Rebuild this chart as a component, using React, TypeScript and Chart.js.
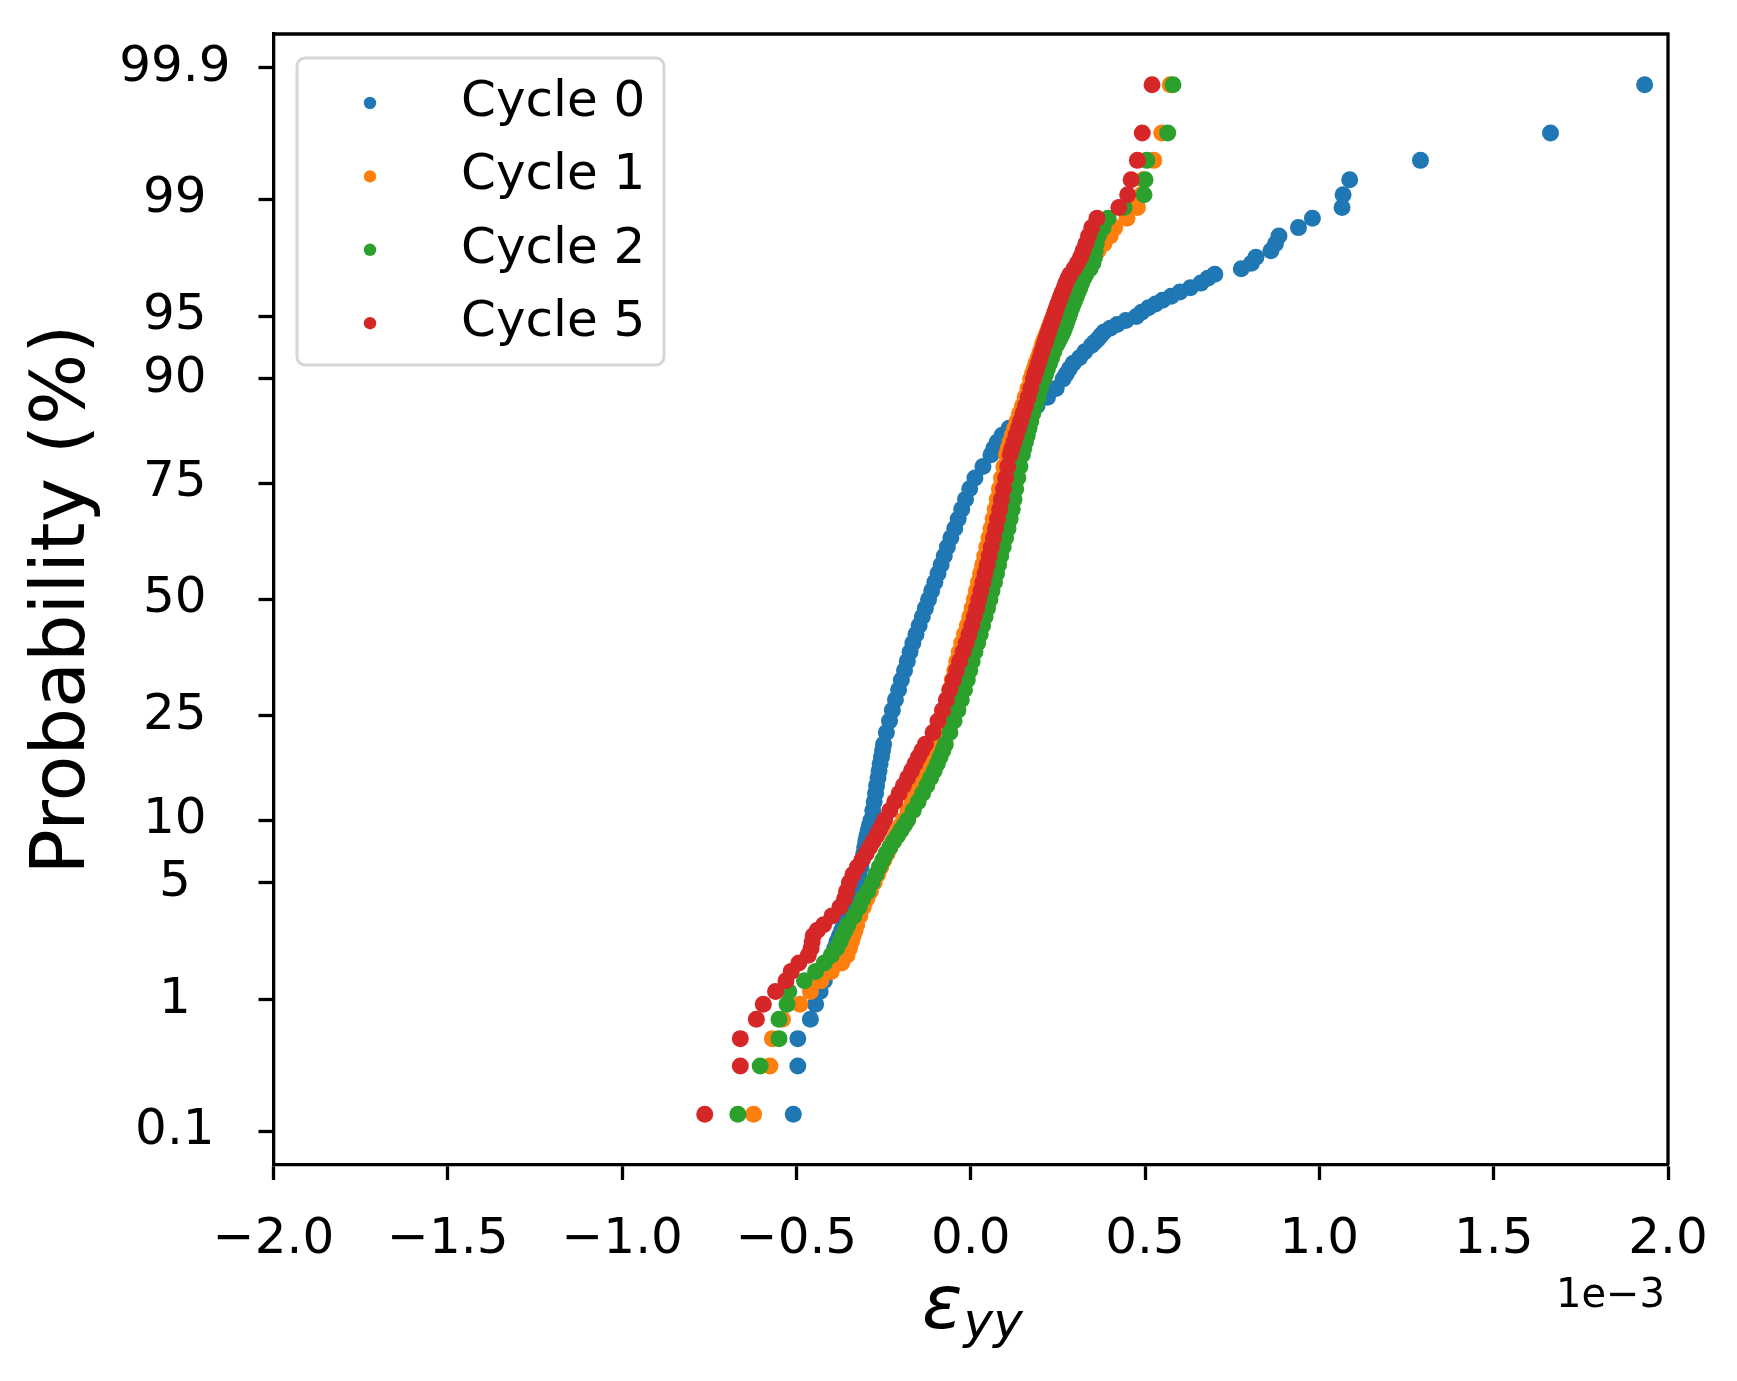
import React, { useEffect, useRef } from 'react';
import { Chart, registerables } from 'chart.js';

Chart.register(...registerables);

// plotting positions in %, shared by every cycle (500 samples each,
// the dense middle is sub-sampled)
const probLevels = [
  0.139, 0.336, 0.536, 0.736, 0.935, 1.135, 1.335, 1.535, 1.735, 1.934, 2.134, 2.334, 2.534, 2.734, 2.934,
  3.3, 3.7, 4.1, 4.5, 5, 5.5, 6, 6.5, 7, 7.5, 8, 8.5, 9, 9.5, 10,
  11, 12, 13, 14, 15, 16, 17, 18, 19, 20,
  22, 24, 26, 28, 30, 32, 34, 36, 38, 40, 42, 44, 46, 48, 50, 52, 54, 56, 58, 60, 62, 64, 66, 68, 70, 72, 74, 76, 78,
  80, 81, 82, 83, 84, 85, 86, 87, 88, 89, 90,
  90.5, 91, 91.5, 92, 92.5, 93, 93.25, 93.5, 93.75, 94, 94.25, 94.5, 94.75, 95, 95.25, 95.5, 95.7, 95.9, 96.1, 96.3, 96.5, 96.7, 96.9,
  97.066, 97.266, 97.466, 97.666, 97.866, 98.066, 98.266, 98.465, 98.665, 98.865, 99.065, 99.264, 99.464, 99.664, 99.861,
];

// eps_yy at each level, in units of 1e-3
const cycle0 = [
  -0.509, -0.496, -0.496, -0.46, -0.445, -0.432, -0.42, -0.41, -0.403, -0.397, -0.39, -0.384, -0.377, -0.37, -0.364,
  -0.355, -0.347, -0.34, -0.333, -0.326, -0.32, -0.315, -0.311, -0.307, -0.304, -0.301, -0.298, -0.294, -0.29, -0.286,
  -0.281, -0.277, -0.273, -0.27, -0.266, -0.263, -0.26, -0.256, -0.253, -0.25,
  -0.242, -0.233, -0.225, -0.216, -0.207, -0.199, -0.19, -0.182, -0.174, -0.166, -0.157, -0.148, -0.139, -0.13, -0.121,
  -0.112, -0.103, -0.094, -0.085, -0.076, -0.067, -0.057, -0.046, -0.036, -0.026, -0.015, -0.003, 0.012, 0.035,
  0.058, 0.066, 0.076, 0.09, 0.11, 0.135, 0.16, 0.19, 0.22, 0.245, 0.265,
  0.274, 0.283, 0.294, 0.312, 0.327, 0.346, 0.355, 0.365, 0.373, 0.382, 0.4, 0.42, 0.445, 0.475, 0.49, 0.51, 0.53, 0.55, 0.575, 0.6, 0.63, 0.66, 0.68,
  0.7, 0.776, 0.805, 0.818, 0.861, 0.874, 0.884, 0.94, 0.98, 1.065, 1.068, 1.087, 1.29, 1.663, 1.933,
];

const cycle1 = [
  -0.623, -0.576, -0.569, -0.54, -0.49, -0.46, -0.43, -0.4, -0.37, -0.355, -0.348, -0.342, -0.337, -0.332, -0.327,
  -0.318, -0.308, -0.298, -0.288, -0.277, -0.267, -0.258, -0.249, -0.24, -0.232, -0.224, -0.216, -0.208, -0.2, -0.192,
  -0.18, -0.168, -0.157, -0.147, -0.137, -0.128, -0.119, -0.111, -0.103, -0.096,
  -0.09, -0.085, -0.077, -0.068, -0.06, -0.053, -0.046, -0.04, -0.033, -0.026, -0.018, -0.01, -0.003, 0.004, 0.01,
  0.016, 0.022, 0.028, 0.034, 0.04, 0.046, 0.052, 0.058, 0.064, 0.07, 0.076, 0.082, 0.088, 0.095,
  0.102, 0.107, 0.113, 0.119, 0.126, 0.133, 0.14, 0.148, 0.156, 0.164, 0.172,
  0.177, 0.182, 0.187, 0.193, 0.199, 0.205, 0.208, 0.212, 0.216, 0.22, 0.224, 0.228, 0.232, 0.237, 0.241, 0.246, 0.251, 0.256, 0.261, 0.267, 0.273, 0.28, 0.29,
  0.3, 0.315, 0.33, 0.348, 0.365, 0.382, 0.4, 0.413, 0.448, 0.478, 0.49, 0.495, 0.525, 0.548, 0.572,
];

const cycle2 = [
  -0.668, -0.604, -0.55, -0.55, -0.527, -0.522, -0.477, -0.445, -0.42, -0.4, -0.385, -0.375, -0.368, -0.36, -0.352,
  -0.335, -0.32, -0.31, -0.295, -0.283, -0.272, -0.262, -0.252, -0.243, -0.232, -0.221, -0.21, -0.2, -0.19, -0.181,
  -0.165, -0.151, -0.138, -0.126, -0.115, -0.105, -0.096, -0.088, -0.08, -0.073,
  -0.06, -0.048, -0.037, -0.027, -0.018, -0.01, -0.003, 0.004, 0.012, 0.02, 0.027, 0.034, 0.041, 0.048, 0.055,
  0.061, 0.068, 0.074, 0.08, 0.086, 0.093, 0.1, 0.107, 0.113, 0.119, 0.124, 0.129, 0.135, 0.141,
  0.148, 0.152, 0.157, 0.162, 0.167, 0.172, 0.178, 0.185, 0.193, 0.2, 0.21,
  0.215, 0.22, 0.226, 0.232, 0.238, 0.245, 0.25, 0.255, 0.26, 0.265, 0.269, 0.273, 0.277, 0.281, 0.285, 0.29, 0.294, 0.298, 0.303, 0.308, 0.313, 0.318, 0.324,
  0.33, 0.342, 0.35, 0.355, 0.357, 0.36, 0.366, 0.38, 0.394, 0.44, 0.497, 0.5, 0.505, 0.565, 0.58,
];

const cycle5 = [
  -0.763, -0.661, -0.661, -0.615, -0.595, -0.56, -0.53, -0.515, -0.493, -0.466, -0.458, -0.455, -0.452, -0.44, -0.422,
  -0.398, -0.375, -0.362, -0.356, -0.348, -0.338, -0.325, -0.312, -0.3, -0.29, -0.28, -0.27, -0.262, -0.254, -0.247,
  -0.232, -0.218, -0.205, -0.193, -0.181, -0.17, -0.16, -0.15, -0.14, -0.13,
  -0.108, -0.094, -0.081, -0.07, -0.06, -0.05, -0.041, -0.032, -0.022, -0.013, -0.005, 0.003, 0.01, 0.017, 0.023,
  0.029, 0.035, 0.041, 0.047, 0.053, 0.059, 0.065, 0.071, 0.077, 0.083, 0.088, 0.094, 0.1, 0.106,
  0.113, 0.118, 0.124, 0.13, 0.137, 0.143, 0.15, 0.157, 0.165, 0.172, 0.18,
  0.184, 0.189, 0.194, 0.199, 0.204, 0.21, 0.213, 0.216, 0.219, 0.223, 0.226, 0.23, 0.234, 0.238, 0.242, 0.246, 0.25, 0.254, 0.258, 0.263, 0.268, 0.273, 0.279,
  0.285, 0.296, 0.306, 0.315, 0.322, 0.33, 0.338, 0.347, 0.362, 0.425, 0.45, 0.46, 0.478, 0.492, 0.52,
];

const seriesLabels = ['Cycle 0', 'Cycle 1', 'Cycle 2', 'Cycle 5'];
const seriesColors = ['#1f77b4', '#ff7f0e', '#2ca02c', '#d62728'];

const probTicks = [0.1, 1, 5, 10, 25, 50, 75, 90, 95, 99, 99.9];
const probTickLabels = ['0.1', '1', '5', '10', '25', '50', '75', '90', '95', '99', '99.9'];

const FONT = '"DejaVu Sans", sans-serif';

// inverse of the standard normal CDF (Acklam), used for the probability axis
function probit(p: number): number {
  const a = [-39.69683028665376, 220.9460984245205, -275.9285104469687, 138.357751867269, -30.66479806614716, 2.506628277459239];
  const b = [-54.47609879822406, 161.5858368580409, -155.6989798598866, 66.80131188771972, -13.28068155288572];
  const c = [-0.007784894002430293, -0.3223964580411365, -2.400758277161838, -2.549732539343734, 4.374664141464968, 2.938163982698783];
  const d = [0.007784695709041462, 0.3224671290700398, 2.445134137142996, 3.754408661907416];
  const pLow = 0.02425;
  if (p < pLow) {
    const q = Math.sqrt(-2 * Math.log(p));
    return (((((c[0] * q + c[1]) * q + c[2]) * q + c[3]) * q + c[4]) * q + c[5]) /
      ((((d[0] * q + d[1]) * q + d[2]) * q + d[3]) * q + 1);
  }
  if (p <= 1 - pLow) {
    const q = p - 0.5;
    const r = q * q;
    return (((((a[0] * r + a[1]) * r + a[2]) * r + a[3]) * r + a[4]) * r + a[5]) * q /
      (((((b[0] * r + b[1]) * r + b[2]) * r + b[3]) * r + b[4]) * r + 1);
  }
  const q = Math.sqrt(-2 * Math.log(1 - p));
  return -(((((c[0] * q + c[1]) * q + c[2]) * q + c[3]) * q + c[4]) * q + c[5]) /
    ((((d[0] * q + d[1]) * q + d[2]) * q + d[3]) * q + 1);
}

// top/right spines, legend box and axis titles
const decorPlugin = {
  id: 'decor',
  afterDraw(chart: any) {
    const { ctx, chartArea } = chart;
    const { left, right, top, bottom } = chartArea;
    ctx.save();

    ctx.strokeStyle = '#000';
    ctx.lineWidth = 3.3;
    ctx.beginPath();
    ctx.moveTo(left, top);
    ctx.lineTo(right, top);
    ctx.lineTo(right, bottom);
    ctx.stroke();

    // legend
    const lx = left + 23.5;
    const ly = top + 24;
    ctx.beginPath();
    ctx.roundRect(lx, ly, 367, 307, 8);
    ctx.fillStyle = 'rgba(255,255,255,0.8)';
    ctx.fill();
    ctx.lineWidth = 3;
    ctx.strokeStyle = '#d6d6d6';
    ctx.stroke();
    chart.data.datasets.forEach((ds: any, i: number) => {
      const y = ly + 45 + i * 73.4;
      ctx.fillStyle = ds.backgroundColor;
      ctx.beginPath();
      ctx.arc(lx + 73, y, 6.2, 0, Math.PI * 2);
      ctx.fill();
      ctx.fillStyle = '#000';
      ctx.font = `50px ${FONT}`;
      ctx.textAlign = 'left';
      ctx.textBaseline = 'middle';
      ctx.fillText(ds.label, lx + 164, y);
    });

    // y title
    ctx.fillStyle = '#000';
    ctx.save();
    ctx.translate(65, (top + bottom) / 2);
    ctx.rotate(-Math.PI / 2);
    ctx.font = `75px ${FONT}`;
    ctx.textAlign = 'center';
    ctx.textBaseline = 'middle';
    ctx.fillText('Probability (%)', 0, 0);
    ctx.restore();

    // x title: epsilon with subscript yy
    ctx.textAlign = 'left';
    ctx.textBaseline = 'alphabetic';
    ctx.font = `italic 75px ${FONT}`;
    const ex = 922;
    ctx.fillText('ε', ex, 1328);
    const ew = ctx.measureText('ε').width;
    ctx.font = `italic 50px ${FONT}`;
    ctx.fillText('yy', ex + ew + 1, 1338);

    // offset text
    ctx.font = `40px ${FONT}`;
    ctx.textAlign = 'right';
    ctx.fillText('1e\u22123', right - 3, 1307);

    ctx.restore();
  },
};

export default function App() {
  const canvasRef = useRef<HTMLCanvasElement>(null);

  useEffect(() => {
    document.body.style.margin = '0';
    if (!canvasRef.current) return;

    const series = [cycle0, cycle1, cycle2, cycle5];
    const tickFont = { family: FONT, size: 50 };
    const grid = {
      drawOnChartArea: false,
      drawTicks: true,
      tickLength: 15,
      tickWidth: 3.3,
      tickColor: '#000',
    };
    const border = { display: true, color: '#000', width: 3.3 };

    const chart = new Chart(canvasRef.current, {
      type: 'scatter',
      data: {
        datasets: series.map((values, k) => ({
          label: seriesLabels[k],
          data: probLevels.map((p, i) => ({ x: values[i], y: probit(p / 100) })),
          backgroundColor: seriesColors[k],
          borderColor: seriesColors[k],
          pointRadius: 8.5,
          pointBorderWidth: 0,
          order: 4 - k,
        })),
      },
      options: {
        animation: false,
        responsive: false,
        events: [],
        layout: { padding: { top: 34, right: 69, left: 0, bottom: 0 } },
        plugins: {
          legend: { display: false },
          tooltip: { enabled: false },
        },
        scales: {
          x: {
            type: 'linear',
            min: -2,
            max: 2,
            ticks: {
              stepSize: 0.5,
              color: '#000',
              font: tickFont,
              padding: 30,
              maxRotation: 0,
              callback: (v: any) => (Number(v) < 0 ? '\u2212' : '') + Math.abs(Number(v)).toFixed(1),
            },
            grid,
            border,
            afterFit: (s: any) => {
              s.height = 216;
              s.paddingLeft = 0;
              s.paddingRight = 0;
            },
          },
          y: {
            type: 'linear',
            min: -3.286,
            max: 3.286,
            afterBuildTicks: (s: any) => {
              s.ticks = probTicks.map((p) => ({ value: probit(p / 100) }));
            },
            ticks: {
              autoSkip: false,
              crossAlign: 'center',
              padding: 28,
              color: '#000',
              font: tickFont,
              callback: (_v: any, i: number) => probTickLabels[i],
            },
            grid,
            border,
            afterFit: (s: any) => {
              s.width = 273.5;
              s.paddingTop = 0;
              s.paddingBottom = 0;
            },
          },
        },
      } as any,
      plugins: [decorPlugin],
    });

    return () => chart.destroy();
  }, []);

  return (
    <div style={{ width: 1737, height: 1381, background: '#fff' }}>
      <canvas ref={canvasRef} width={1737} height={1381} style={{ display: 'block' }} />
    </div>
  );
}
